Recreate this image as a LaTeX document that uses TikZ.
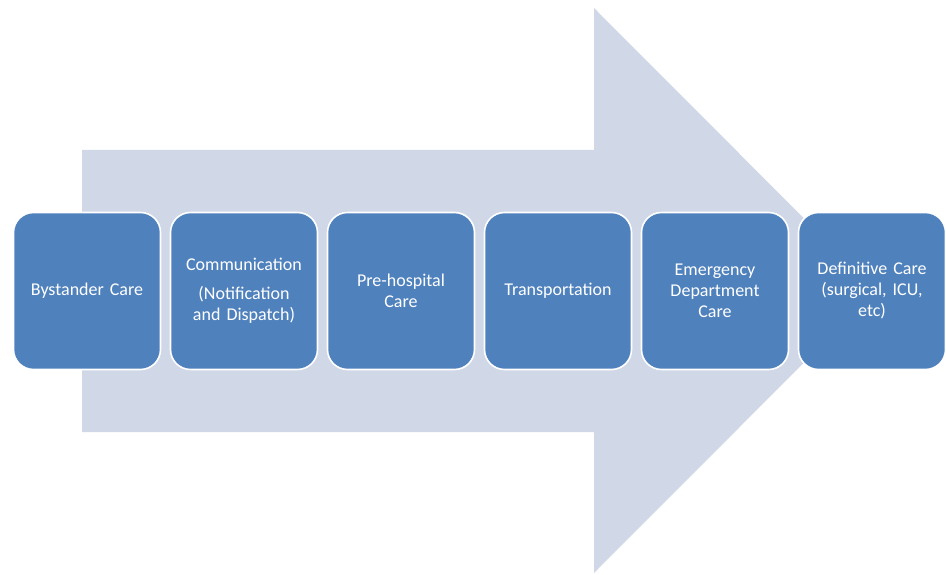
\documentclass[tikz,border=0pt]{standalone}
\usepackage{fontspec}
\setmainfont{Carlito}
\usetikzlibrary{positioning}
\definecolor{stageblue}{HTML}{4F81BD}
\definecolor{arrowgrey}{HTML}{D0D8E8}
\tikzset{
  stage/.style={draw=white, line width=1.6pt, fill=stageblue, rounded corners=20pt,
    minimum width=147pt, minimum height=157pt, text width=136pt, align=center,
    text=white, font=\fontsize{18}{21}\selectfont, inner sep=0pt},
}

\begin{document}
\begin{tikzpicture}[x=1pt, y=-1pt]
	\useasboundingbox (0,0) rectangle (946,575);
	% big background arrow
	\fill [arrowgrey] (82,150) -- (594,150) -- (594,8) -- (876,290.5)
		-- (594,573) -- (594,432) -- (82,432) -- cycle;
	% stages of care
	\node [stage] (bystander) at (87,291) {Bystander Care};
	\node [stage, right=8.4pt of bystander] (comm) {Communication\\[8pt](Notification\\and Dispatch)};
	\node [stage, right=8.4pt of comm] (prehosp) {Pre-hospital\\Care};
	\node [stage, right=8.4pt of prehosp] (transport) {Transportation};
	\node [stage, right=8.4pt of transport] (emerg) {Emergency\\Department\\Care};
	\node [stage, right=8.4pt of emerg] (definitive) {Definitive Care\\(surgical, ICU,\\etc)};
\end{tikzpicture}
\end{document}
